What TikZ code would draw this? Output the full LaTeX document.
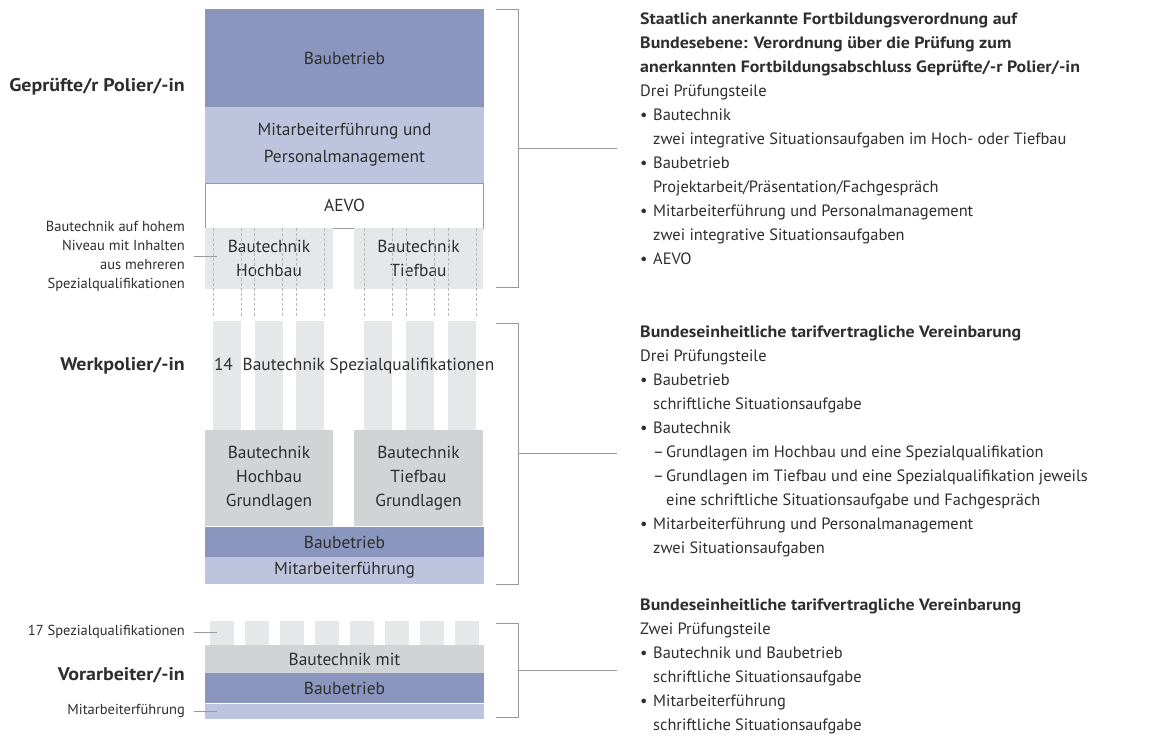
\documentclass[tikz,border=0pt]{standalone}
\usepackage{fontspec}
\setmainfont{PT Sans}[BoldFeatures={FakeStretch=1.09}]
\usetikzlibrary{positioning, calc}

\definecolor{bbblue}{HTML}{8A96BD}
\definecolor{mfblue}{HTML}{BFC4DE}
\definecolor{spgray}{HTML}{E6E7E9}
\definecolor{grgray}{HTML}{D2D3D5}
\definecolor{txtgray}{HTML}{2E2E2E}
\definecolor{linegray}{HTML}{999999}

\newcommand{\blockfont}{\fontsize{17.4}{24}\selectfont}
\newcommand{\notefont}{\fontsize{14.5}{19}\selectfont}
\newcommand{\descfont}{\fontsize{16.4}{24}\selectfont}
\newcommand{\levelfont}{\fontsize{18.3}{22}\selectfont\bfseries}
\newcommand{\ind}{\makebox[13pt]{}}
\newcommand{\bul}{\makebox[13pt][l]{•}}
\newcommand{\dsh}{\makebox[13pt][l]{–}}

\begin{document}
\begin{tikzpicture}
    [x=1pt, y=-1pt,
     block/.style={inner sep=0pt, outer sep=0pt, align=center, text=txtgray,
       font=\blockfont, anchor=north west},
     pillar/.style={fill=spgray, minimum width=28pt, minimum height=109pt,
       inner sep=0pt, outer sep=0pt, anchor=north west},
     square/.style={fill=spgray, minimum width=24pt, minimum height=24pt,
       inner sep=0pt, outer sep=0pt, anchor=north west},
     level/.style={font=\levelfont, text=txtgray, anchor=east, inner sep=0pt},
     note/.style={font=\notefont, text=txtgray, anchor=east, align=right, inner sep=0pt},
     desc/.style={font=\descfont, text=txtgray, anchor=north west, align=left, inner sep=0pt},
     bracket/.style={draw=linegray, line width=1pt},
     leader/.style={draw=linegray, line width=0.8pt},
     dashline/.style={draw=linegray!70, line width=0.6pt, dash pattern=on 3pt off 2pt}]
    \useasboundingbox (0,0) rectangle (1171,736);

    % Gepruefte/r Polier/-in
    \node[block, fill=bbblue, minimum width=279pt, minimum height=98pt] (baubetrieb) at (205,9) {Baubetrieb};
    \node[block, fill=mfblue, minimum width=279pt, minimum height=76pt, below=0pt of baubetrieb]
      (personal) {Mitarbeiterführung und\\[3pt]Personalmanagement};
    \node[block, draw=linegray, line width=0.8pt, fill=white, minimum width=278pt, minimum height=45pt,
      below=0pt of personal] (aevo) {AEVO};
    \node[block, fill=spgray, minimum width=128pt, minimum height=61pt] (hochtop) at (205,228) {Bautechnik\\Hochbau};
    \node[block, fill=spgray, minimum width=129pt, minimum height=61pt] (tieftop) at (354,228) {Bautechnik\\Tiefbau};

    % Werkpolier/-in
    \foreach \x [count=\i] in {213,254.5,296,364,406,448}
      \node[pillar] (p\i) at (\x,321) {};
    \foreach \i in {1,...,6} {
      \draw[dashline] (p\i.north west |- aevo.south) -- ([yshift=3pt]p\i.north west);
      \draw[dashline] (p\i.north east |- aevo.south) -- ([yshift=3pt]p\i.north east);
    }
    \node[block, anchor=west] (spez14) at (214,366) {14\hspace{5pt} Bautechnik Spezialqualifikationen};
    \node[block, fill=grgray, minimum width=128pt, minimum height=96pt] (hochgr) at (205,430)
      {Bautechnik\\Hochbau\\Grundlagen};
    \node[block, fill=grgray, minimum width=129pt, minimum height=96pt] (tiefgr) at (354,430)
      {Bautechnik\\Tiefbau\\Grundlagen};
    \node[block, fill=bbblue, minimum width=279pt, minimum height=30pt] (baubetriebw) at (205,527) {Baubetrieb};
    \node[block, fill=mfblue, minimum width=279pt, minimum height=27pt, below=0pt of baubetriebw]
      (mitarbw) {Mitarbeiterführung};

    % Vorarbeiter/-in
    \foreach \i in {0,...,7}
      \node[square] (q\i) at (210+35*\i,621) {};
    \node[block, fill=grgray, minimum width=279pt, minimum height=28pt] (technikv) at (205,645) {Bautechnik mit};
    \node[block, fill=bbblue, minimum width=279pt, minimum height=30pt, below=0pt of technikv]
      (baubetriebv) {Baubetrieb};
    \node[block, fill=mfblue, minimum width=279pt, minimum height=15pt, below=1pt of baubetriebv]
      (mitarbv) {};

    % levels and notes
    \node[level] (polier) at (185,87) {Geprüfte/r Polier/-in};
    \node[level] (werkpolier) at (185,366) {Werkpolier/-in};
    \node[level] (vorarbeiter) at (185,675) {Vorarbeiter/-in};
    \node[note] (hohem) at (185,256) {Bautechnik auf hohem\\Niveau mit Inhalten\\aus mehreren\\Spezialqualifikationen};
    \node[note] (spez17) at (185,632) {17 Spezialqualifikationen};
    \node[note] (mitarbnote) at (185,711) {Mitarbeiterführung};
    \draw[leader] ([xshift=9pt]hohem.east) -- ([xshift=12pt]hohem.east -| hochtop.west);
    \draw[leader] ([xshift=9pt]spez17.east) -- ([xshift=12pt]spez17.east -| technikv.west);
    \draw[leader] ([xshift=9pt]mitarbnote.east) -- ([xshift=12pt]mitarbnote.east -| mitarbv.west);

    % brackets
    \coordinate (b1a) at ([xshift=34pt]baubetrieb.north east);
    \coordinate (b1b) at ([xshift=34pt, yshift=2pt]baubetrieb.east |- tieftop.south);
    \draw[bracket] ([xshift=-22pt]b1a) -- (b1a) -- (b1b) -- ([xshift=-22pt]b1b);
    \draw[bracket] ($(b1a)!.5!(b1b)$) -- ++(99,0);
    \coordinate (b2a) at ([xshift=34pt, yshift=-2pt]baubetrieb.east |- p6.north);
    \coordinate (b2b) at ([xshift=34pt]mitarbw.south east);
    \draw[bracket] ([xshift=-22pt]b2a) -- (b2a) -- (b2b) -- ([xshift=-22pt]b2b);
    \draw[bracket] ($(b2a)!.5!(b2b)$) -- ++(99,0);
    \coordinate (b3a) at ([xshift=34pt, yshift=-2pt]technikv.east |- q7.north);
    \coordinate (b3b) at ([xshift=34pt, yshift=2pt]mitarbv.south east);
    \draw[bracket] ([xshift=-22pt]b3a) -- (b3a) -- (b3b) -- ([xshift=-22pt]b3b);
    \draw[bracket] ($(b3a)!.5!(b3b)$) -- ++(99,0);

    % descriptions
    \node[desc] (polierdesc) at (640,13) {%
      \textbf{Staatlich anerkannte Fortbildungsverordnung auf}\\
      \textbf{Bundesebene: Verordnung über die Prüfung zum}\\
      \textbf{anerkannten Fortbildungsabschluss Geprüfte/-r Polier/-in}\\
      Drei Prüfungsteile\\
      \bul Bautechnik\\
      \ind zwei integrative Situationsaufgaben im Hoch- oder Tiefbau\\
      \bul Baubetrieb\\
      \ind Projektarbeit/Präsentation/Fachgespräch\\
      \bul Mitarbeiterführung und Personalmanagement\\
      \ind zwei integrative Situationsaufgaben\\
      \bul AEVO};
    \node[desc] (werkdesc) at (640,326) {%
      \textbf{Bundeseinheitliche tarifvertragliche Vereinbarung}\\
      Drei Prüfungsteile\\
      \bul Baubetrieb\\
      \ind schriftliche Situationsaufgabe\\
      \bul Bautechnik\\
      \ind\dsh Grundlagen im Hochbau und eine Spezialqualifikation\\
      \ind\dsh Grundlagen im Tiefbau und eine Spezialqualifikation jeweils\\
      \ind\ind eine schriftliche Situationsaufgabe und Fachgespräch\\
      \bul Mitarbeiterführung und Personalmanagement\\
      \ind zwei Situationsaufgaben};
    \node[desc] (vordesc) at (640,599) {%
      \textbf{Bundeseinheitliche tarifvertragliche Vereinbarung}\\
      Zwei Prüfungsteile\\
      \bul Bautechnik und Baubetrieb\\
      \ind schriftliche Situationsaufgabe\\
      \bul Mitarbeiterführung\\
      \ind schriftliche Situationsaufgabe};
\end{tikzpicture}
\end{document}
